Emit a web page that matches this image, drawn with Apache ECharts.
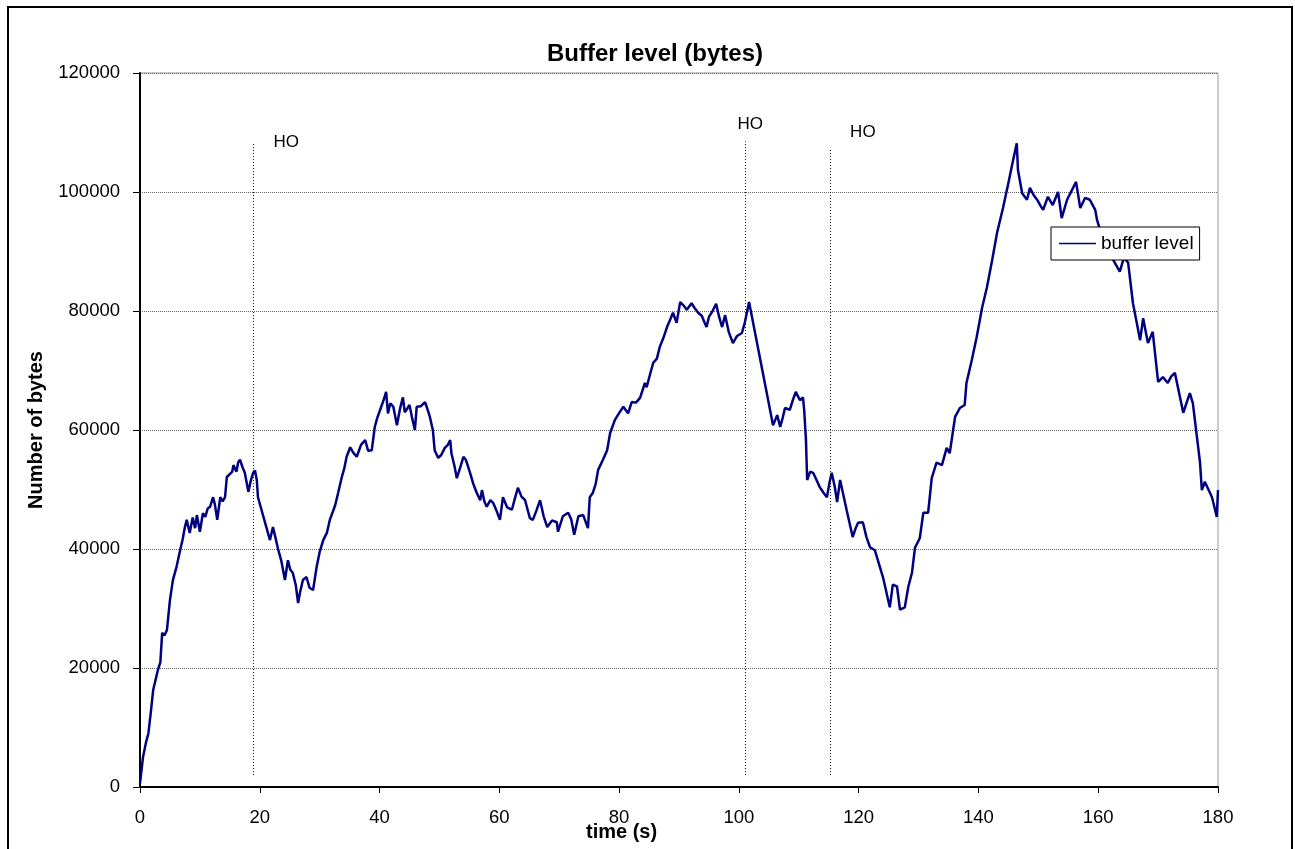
<!DOCTYPE html>
<html>
<head>
<meta charset="utf-8">
<title>Buffer level</title>
<script src="https://cdn.jsdelivr.net/npm/echarts@6/dist/echarts.min.js"></script>
<style>
html, body { margin: 0; padding: 0; background: #fff; }
#chart { width: 1295px; height: 849px; }
</style>
</head>
<body>
<div id="chart"></div>
<script>
// buffer level trace (time in s, level in bytes)
var timeSec = [
  0, 0.5, 1.0, 1.4, 1.8, 2.2, 2.6, 3.0, 3.4, 3.7, 4.1, 4.5, 5.0, 5.5, 6.1, 6.7, 7.1, 7.5, 7.8, 8.3,
  8.8, 9.2, 9.5, 10.0, 10.5, 10.9, 11.3, 11.7, 12.2, 12.5, 12.9, 13.4, 13.8, 14.2, 14.5, 15.0, 15.4, 15.6, 16.1, 16.4,
  16.7, 17.1, 17.5, 18.1, 18.5, 18.9, 19.2, 19.5, 19.7, 21.7, 22.2, 22.6, 23.1, 23.6, 24.2, 24.7, 25.1, 25.5, 26.0, 26.4,
  26.7, 27.2, 27.8, 28.3, 28.9, 29.5, 30.0, 30.6, 31.2, 31.7, 32.1, 32.6, 33.1, 33.7, 34.1, 34.5, 35.1, 35.6, 36.2, 36.9,
  37.6, 38.1, 38.7, 39.2, 39.6, 40.1, 40.6, 41.1, 41.4, 41.8, 42.3, 42.9, 43.4, 43.9, 44.2, 44.5, 45.0, 45.4, 45.9, 46.2,
  46.9, 47.6, 48.0, 48.4, 48.9, 49.2, 49.8, 50.3, 50.9, 51.4, 51.8, 52.0, 52.5, 52.9, 53.5, 54.0, 54.4, 54.8, 55.2, 55.6,
  56.2, 56.8, 57.1, 57.5, 57.9, 58.5, 59.0, 59.5, 60.1, 60.6, 61.3, 62.1, 62.6, 63.1, 63.7, 64.3, 65.1, 65.6, 66.2, 66.8,
  67.4, 68.0, 68.8, 69.6, 69.8, 70.6, 71.5, 72.0, 72.5, 73.2, 74.0, 74.8, 75.1, 75.6, 76.1, 76.5, 77.3, 78.0, 78.5, 79.3,
  80.1, 80.7, 81.5, 82.1, 82.8, 83.5, 84.3, 84.6, 85.2, 85.7, 86.3, 86.8, 87.4, 88.0, 88.5, 89.0, 89.6, 90.2, 90.7, 91.3,
  92.1, 92.6, 93.2, 93.8, 94.3, 94.6, 95.0, 95.5, 96.2, 96.7, 97.2, 97.7, 98.3, 99.0, 99.7, 100.5, 101.0, 101.7, 105.7, 106.4,
  106.9, 107.3, 107.7, 108.5, 109.0, 109.5, 110.2, 110.7, 110.9, 111.2, 111.4, 111.9, 112.4, 113.0, 113.5, 114.1, 114.7, 115.1, 115.5, 116.0,
  116.4, 116.9, 118.0, 119.0, 119.5, 119.9, 120.7, 121.3, 121.9, 122.7, 123.3, 124.1, 124.4, 125.2, 125.7, 126.4, 126.9, 127.7, 128.3, 128.9,
  129.4, 130.2, 130.8, 131.6, 132.2, 133.0, 133.9, 134.7, 135.2, 136.1, 136.9, 137.7, 138.0, 138.9, 139.7, 140.6, 141.4, 142.3, 143.1, 144.1,
  145.0, 145.8, 146.4, 146.6, 147.3, 148.1, 148.6, 149.2, 149.8, 150.3, 150.8, 151.6, 152.4, 153.3, 153.9, 154.8, 155.8, 156.3, 157.0, 157.8,
  158.6, 159.5, 159.8, 160.5, 161.5, 162.5, 163.6, 164.3, 165.0, 165.8, 167.0, 167.5, 168.3, 169.1, 170.0, 170.8, 171.6, 172.2, 172.8, 174.2,
  175.3, 175.8, 177.0, 177.3, 177.8, 178.4, 179.0, 179.8, 180.0
];
var bufferBytes = [
  600, 5000, 7500, 9000, 12500, 16300, 18000, 19700, 21000, 25900, 25500, 26400, 31400, 34800, 37000, 39800, 41500, 43700, 44900, 42700,
  45300, 43500, 45700, 42900, 46000, 45400, 46800, 47100, 48700, 47500, 44900, 48700, 48000, 48700, 52100, 52600, 53000, 54100, 53000, 54600,
  55000, 53800, 52800, 49600, 51500, 52800, 53200, 51600, 48700, 41500, 43700, 42000, 39800, 38000, 34800, 38100, 36500, 36000, 34000, 30900,
  32600, 34800, 35300, 33500, 33100, 37000, 39500, 41500, 42700, 44900, 46000, 47400, 49500, 52100, 53500, 55500, 57100, 56200, 55500, 57500,
  58300, 56500, 56600, 60500, 62000, 63400, 64800, 66400, 62800, 64500, 63900, 60800, 63500, 65500, 63000, 63400, 64200, 62200, 60000, 63900,
  64000, 64700, 63500, 62200, 60000, 56600, 55300, 55800, 57000, 57500, 58300, 56100, 54000, 51900, 53800, 55500, 55000, 53800, 52500, 51100,
  49500, 48200, 49900, 48000, 47100, 48200, 47700, 46500, 44900, 48700, 47000, 46600, 48500, 50300, 48800, 48200, 45200, 44900, 46500, 48200,
  45500, 43700, 44800, 44500, 42900, 45500, 46100, 45000, 42400, 45500, 45700, 43500, 48700, 49400, 51000, 53300, 55000, 56600, 59500, 61700,
  63000, 63900, 62800, 64700, 64600, 65400, 67900, 67200, 69500, 71300, 72000, 74000, 75500, 77300, 78500, 79700, 78000, 81500, 81000, 80200,
  81300, 80500, 79700, 79200, 78000, 77300, 79000, 79800, 81200, 79000, 77300, 79300, 76500, 74600, 75800, 76300, 78100, 81500, 60800, 62500,
  60500, 62000, 63700, 63400, 65000, 66400, 65000, 65500, 63400, 58300, 51600, 53000, 52800, 51500, 50400, 49500, 48700, 51000, 52800, 50500,
  47900, 51600, 46500, 42000, 43500, 44400, 44500, 42000, 40300, 39800, 37800, 35100, 34800, 30200, 34000, 33700, 29800, 30200, 33700, 36000,
  40200, 41800, 46100, 46100, 51900, 54500, 54100, 57000, 56100, 62200, 63700, 64200, 67900, 71800, 75600, 80500, 83900, 88600, 93100, 97300,
  101500, 105400, 108200, 103700, 99800, 98700, 100700, 99500, 98700, 97800, 97000, 99200, 97800, 100000, 95600, 98700, 100700, 101700, 97300, 99000,
  98700, 97000, 95300, 93000, 90500, 88600, 86600, 89000, 88100, 81300, 75100, 78800, 74600, 76500, 68100, 68900, 67900, 69000, 69600, 62900,
  66200, 64500, 54500, 49900, 51300, 50000, 48700, 45400, 49900
];

// handover markers
var hoTimes = [18.9, 101.0, 115.2];
var hoTops = [108400, 108500, 107200];
var hoLabelTimes = [24.4, 101.9, 120.7];
var hoLabelLevels = [108400, 111400, 110100];

var points = [];
for (var i = 0; i < timeSec.length; i++) {
  points.push([timeSec[i], bufferBytes[i]]);
}

var hoLines = [];
var hoLabels = [];
for (var j = 0; j < hoTimes.length; j++) {
  hoLines.push([{ coord: [hoTimes[j], 2000] }, { coord: [hoTimes[j], hoTops[j]] }]);
  hoLabels.push({ coord: [hoLabelTimes[j], hoLabelLevels[j]], value: 'HO' });
}

var font = 'Liberation Sans, Arial, sans-serif';
var myChart = echarts.init(document.getElementById('chart'));
myChart.setOption({
  animation: false,
  textStyle: { fontFamily: font },
  title: {
    text: 'Buffer level (bytes)',
    left: 650,
    textAlign: 'center',
    top: 37,
    textStyle: { fontFamily: font, fontSize: 24, fontWeight: 'bold', color: '#000' }
  },
  grid: {
    left: 140, right: 77, top: 73, bottom: 62,
    show: true, borderColor: '#999', borderWidth: 1, backgroundColor: '#fff'
  },
  legend: {
    data: ['buffer level'],
    left: 1051, top: 227,
    orient: 'vertical',
    padding: [7, 6, 7, 8],
    backgroundColor: '#fff',
    borderColor: '#000', borderWidth: 1, borderRadius: 0,
    itemWidth: 37, itemHeight: 1.5, itemGap: 5,
    icon: 'rect',
    textStyle: { fontFamily: font, fontSize: 19, color: '#000' }
  },
  xAxis: {
    type: 'value',
    min: 0, max: 180, interval: 20,
    axisLine: { lineStyle: { color: '#000', width: 2 } },
    axisTick: { show: true, length: 6, lineStyle: { color: '#000', width: 1 } },
    axisLabel: { color: '#000', fontSize: 18.5, margin: 21, fontFamily: font },
    splitLine: { show: false }
  },
  yAxis: {
    type: 'value',
    min: 0, max: 120000, interval: 20000,
    name: 'Number of bytes',
    nameLocation: 'middle',
    nameGap: 94,
    nameTextStyle: { fontFamily: font, fontSize: 20, fontWeight: 'bold', color: '#000' },
    axisLine: { show: true, lineStyle: { color: '#000', width: 2 } },
    axisTick: { show: true, length: 7, lineStyle: { color: '#000', width: 1 } },
    axisLabel: {
      color: '#000', fontSize: 18.5, margin: 20, fontFamily: font,
      formatter: function (v) { return String(v); }
    },
    splitLine: { show: true, lineStyle: { color: '#666', width: 1, type: [1, 1] } }
  },
  graphic: [
    {
      type: 'rect',
      shape: { x: 8, y: 7, width: 1284, height: 860 },
      style: { fill: 'none', stroke: '#000', lineWidth: 2 },
      silent: true
    },
    {
      type: 'text',
      left: 586, top: 822,
      style: { text: 'time (s)', font: 'bold 20px ' + font, fill: '#000' }
    }
  ],
  series: [
    {
      name: 'buffer level',
      type: 'line',
      data: points,
      showSymbol: false,
      symbol: 'none',
      lineStyle: { color: '#000080', width: 2.5 },
      itemStyle: { color: '#000080' },
      markLine: {
        silent: true,
        symbol: 'none',
        label: { show: false },
        lineStyle: { color: '#000', width: 1, type: [1, 2] },
        data: hoLines
      },
      markPoint: {
        silent: true,
        symbol: 'circle',
        symbolSize: 0,
        label: {
          show: true, position: 'inside', formatter: 'HO',
          color: '#000', fontSize: 17, fontFamily: font
        },
        data: hoLabels
      }
    }
  ]
});
</script>
</body>
</html>
